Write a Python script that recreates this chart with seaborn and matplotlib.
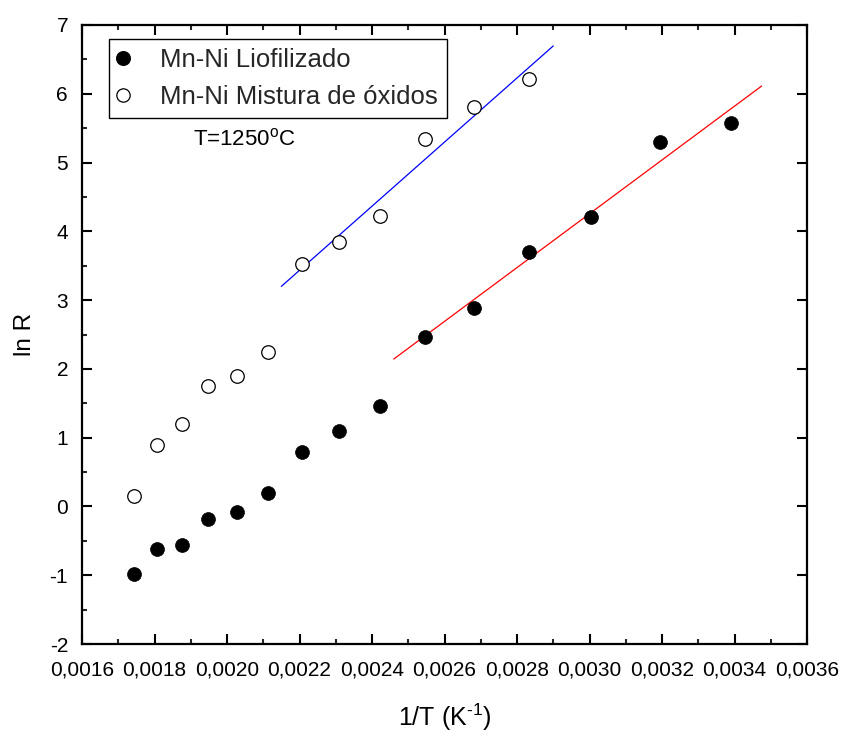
import numpy as np
import pandas as pd
import matplotlib
matplotlib.use("Agg")
import matplotlib.pyplot as plt
import seaborn as sns
from matplotlib.ticker import MultipleLocator, FuncFormatter
from matplotlib.lines import Line2D

# Arrhenius data: ln R versus 1/T
inv_T = [0.001743, 0.001807, 0.001875, 0.001948, 0.002027, 0.002112, 0.002206,
         0.002309, 0.002422, 0.002545, 0.002681, 0.002833, 0.003003, 0.003195, 0.003390]
lnR_liofilizado = [-0.98, -0.62, -0.56, -0.18, -0.08, 0.20, 0.79,
                   1.10, 1.46, 2.47, 2.89, 3.70, 4.21, 5.30, 5.58]
lnR_mistura = [0.15, 0.89, 1.20, 1.75, 1.90, 2.25, 3.53,
               3.85, 4.22, 5.34, 5.81, 6.22]

series_names = ["Mn-Ni Liofilizado", "Mn-Ni Mistura de óxidos"]
x_ticks = [0.0016, 0.0018, 0.0020, 0.0022, 0.0024, 0.0026, 0.0028, 0.0030, 0.0032, 0.0034, 0.0036]
y_ticks = [-2, -1, 0, 1, 2, 3, 4, 5, 6, 7]

# linear fits over the low-temperature region of each series
fit_start_liof, fit_start_mist = 9, 6
fit_span_liof = (0.00246, 0.003475)
fit_span_mist = (0.00215, 0.00290)

sns.set_theme(style="ticks")
plt.rcParams["font.family"] = ["Liberation Sans", "DejaVu Sans"]
plt.rcParams["mathtext.fontset"] = "custom"
plt.rcParams["mathtext.rm"] = "Liberation Sans"
plt.rcParams["mathtext.it"] = "Liberation Sans:italic"

fig = plt.figure(figsize=(8.42, 7.35), dpi=100)
ax = fig.add_axes([82 / 842, (735 - 644) / 735, 725 / 842, 619 / 735])

df_liof = pd.DataFrame({"x": inv_T, "y": lnR_liofilizado})
df_mist = pd.DataFrame({"x": inv_T[:len(lnR_mistura)], "y": lnR_mistura})

# fitted lines
def fit_line(df, start, span):
    sub = df.iloc[start:]
    k, b = np.polyfit(sub["x"], sub["y"], 1)
    xs = np.array(span)
    return pd.DataFrame({"x": xs, "y": k * xs + b})

red = fit_line(df_liof, fit_start_liof, fit_span_liof)
blue = fit_line(df_mist, fit_start_mist, fit_span_mist)
sns.lineplot(data=red, x="x", y="y", ax=ax, color="#ff0000", linewidth=0.9, zorder=2)
sns.lineplot(data=blue, x="x", y="y", ax=ax, color="#0000ff", linewidth=0.9, zorder=2)

sns.scatterplot(data=df_liof, x="x", y="y", ax=ax, s=100, color="black",
                edgecolor="black", linewidth=0.5, zorder=3)
sns.scatterplot(data=df_mist, x="x", y="y", ax=ax, s=95, facecolor="white",
                edgecolor="black", linewidth=0.9, zorder=3)

ax.set_xlim(0.0016, 0.0036)
ax.set_ylim(-2, 7)
ax.set_xticks(x_ticks)
ax.set_yticks(y_ticks)
ax.xaxis.set_minor_locator(MultipleLocator(0.0001))
ax.yaxis.set_minor_locator(MultipleLocator(0.5))
ax.xaxis.set_major_formatter(FuncFormatter(lambda v, p: f"{v:.4f}".replace(".", ",")))
ax.yaxis.set_major_formatter(FuncFormatter(lambda v, p: f"{v:.0f}"))

for side in ["top", "right", "bottom", "left"]:
    ax.spines[side].set_visible(True)
    ax.spines[side].set_linewidth(1.6)
    ax.spines[side].set_color("black")

ax.tick_params(which="major", direction="in", length=7.5, width=1.5,
               top=True, right=True, labelsize=15, colors="black", pad=10)
ax.tick_params(which="minor", direction="in", length=3.8, width=1.5,
               top=True, right=False, left=True, bottom=True)
ax.tick_params(axis="x", which="major", pad=12)

ax.set_xlabel("1/T (K$^{\\text{-1}}$)", fontsize=18, color="black", labelpad=16)
ax.set_ylabel("ln R", fontsize=17.5, color="black", labelpad=10)

handles = [
    Line2D([], [], linestyle="none", marker="o", markersize=9.8,
           markerfacecolor="black", markeredgecolor="black"),
    Line2D([], [], linestyle="none", marker="o", markersize=9.6,
           markerfacecolor="white", markeredgecolor="black", markeredgewidth=0.9),
]
leg = ax.legend(handles, series_names, loc="upper left",
                bbox_to_anchor=(27 / 725, 1 - 14 / 619), borderaxespad=0,
                fontsize=18.5, frameon=True, fancybox=False, shadow=False,
                handlelength=0.4, handletextpad=1.25, borderpad=0.35,
                labelspacing=0.5)
leg.get_frame().set_edgecolor("black")
leg.get_frame().set_linewidth(1.0)
leg.get_frame().set_facecolor("white")
leg.get_frame().set_alpha(1)

ax.text(0.001906, 5.33, "T=1250$^{\\rm o}$C", fontsize=16, color="black",
        ha="left", va="center")

fig.savefig("out.png", dpi=100, facecolor="white")
